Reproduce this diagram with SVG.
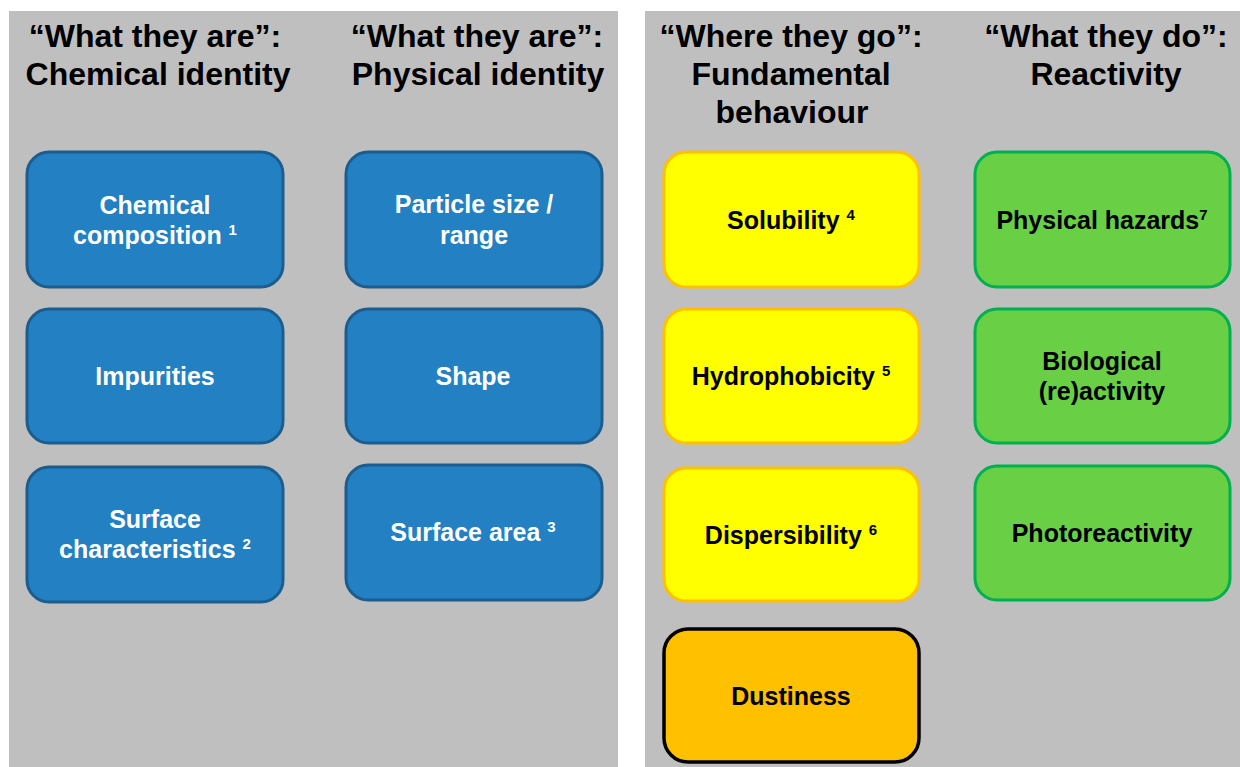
<svg xmlns="http://www.w3.org/2000/svg" width="1240" height="767" viewBox="0 0 1240 767">
<style>
text{font-family:"Liberation Sans",Arial,sans-serif;font-weight:bold;text-anchor:middle}
.h{font-size:32px;fill:#000}
.t{font-size:25px}
.w{fill:#fff}
.k{fill:#000}
.sup{font-size:15px}
.blue{fill:#2381c3;stroke:#1b5d8e;stroke-width:3}
.yel{fill:#ffff00;stroke:#ffc000;stroke-width:3}
.grn{fill:#69cf44;stroke:#00b050;stroke-width:3}
.dus{fill:#ffc000;stroke:#000;stroke-width:3.5}
</style>
<rect width="1240" height="767" fill="#fff"/>
<rect x="9" y="11" width="609" height="756" fill="#bfbfbf"/>
<rect x="645" y="11" width="595" height="756" fill="#bfbfbf"/>
<g id="headers">
<text class="h" x="155" y="47">“What they are”:</text>
<text class="h" x="158" y="85">Chemical identity</text>
<text class="h" x="477" y="47">“What they are”:</text>
<text class="h" x="478" y="85">Physical identity</text>
<text class="h" x="791" y="47">“Where they go”:</text>
<text class="h" x="791" y="85">Fundamental</text>
<text class="h" x="792" y="123">behaviour</text>
<text class="h" x="1106" y="47">“What they do”:</text>
<text class="h" x="1106" y="85">Reactivity</text>
</g>
<g id="chemical-composition">
<rect class="blue" x="27" y="152" width="256" height="135" rx="22"/>
<text class="t w" x="155" y="214">Chemical</text>
<text class="t w" x="155" y="244">composition <tspan class="sup" dy="-9">1</tspan></text>
</g>
<g id="impurities">
<rect class="blue" x="27" y="309" width="256" height="134" rx="22"/>
<text class="t w" x="155" y="385">Impurities</text>
</g>
<g id="surface-characteristics">
<rect class="blue" x="27" y="467" width="256" height="135" rx="22"/>
<text class="t w" x="155" y="528">Surface</text>
<text class="t w" x="155" y="558">characteristics <tspan class="sup" dy="-9">2</tspan></text>
</g>
<g id="particle-size">
<rect class="blue" x="346" y="152" width="256" height="135" rx="22"/>
<text class="t w" x="474" y="213">Particle size /</text>
<text class="t w" x="474" y="244">range</text>
</g>
<g id="shape">
<rect class="blue" x="346" y="309" width="256" height="134" rx="22"/>
<text class="t w" x="473" y="385">Shape</text>
</g>
<g id="surface-area">
<rect class="blue" x="346" y="465" width="256" height="135" rx="22"/>
<text class="t w" x="473" y="541">Surface area <tspan class="sup" dy="-9">3</tspan></text>
</g>
<g id="solubility">
<rect class="yel" x="664" y="152" width="255" height="135" rx="22"/>
<text class="t k" x="791" y="229">Solubility <tspan class="sup" dy="-9">4</tspan></text>
</g>
<g id="hydrophobicity">
<rect class="yel" x="664" y="309" width="255" height="134" rx="22"/>
<text class="t k" x="791" y="385">Hydrophobicity <tspan class="sup" dy="-9">5</tspan></text>
</g>
<g id="dispersibility">
<rect class="yel" x="664" y="468" width="255" height="133" rx="22"/>
<text class="t k" x="791" y="544">Dispersibility <tspan class="sup" dy="-9">6</tspan></text>
</g>
<g id="dustiness">
<rect class="dus" x="664" y="629" width="255" height="133" rx="24"/>
<text class="t k" x="791" y="705">Dustiness</text>
</g>
<g id="physical-hazards">
<rect class="grn" x="975" y="152" width="255" height="135" rx="22"/>
<text class="t k" x="1102" y="229">Physical hazards<tspan class="sup" dy="-9">7</tspan></text>
</g>
<g id="biological-reactivity">
<rect class="grn" x="975" y="309" width="255" height="134" rx="22"/>
<text class="t k" x="1102" y="370">Biological</text>
<text class="t k" x="1102" y="400">(re)activity</text>
</g>
<g id="photoreactivity">
<rect class="grn" x="975" y="466" width="255" height="134" rx="22"/>
<text class="t k" x="1102" y="542">Photoreactivity</text>
</g>
<g id="connectors"></g>
</svg>
